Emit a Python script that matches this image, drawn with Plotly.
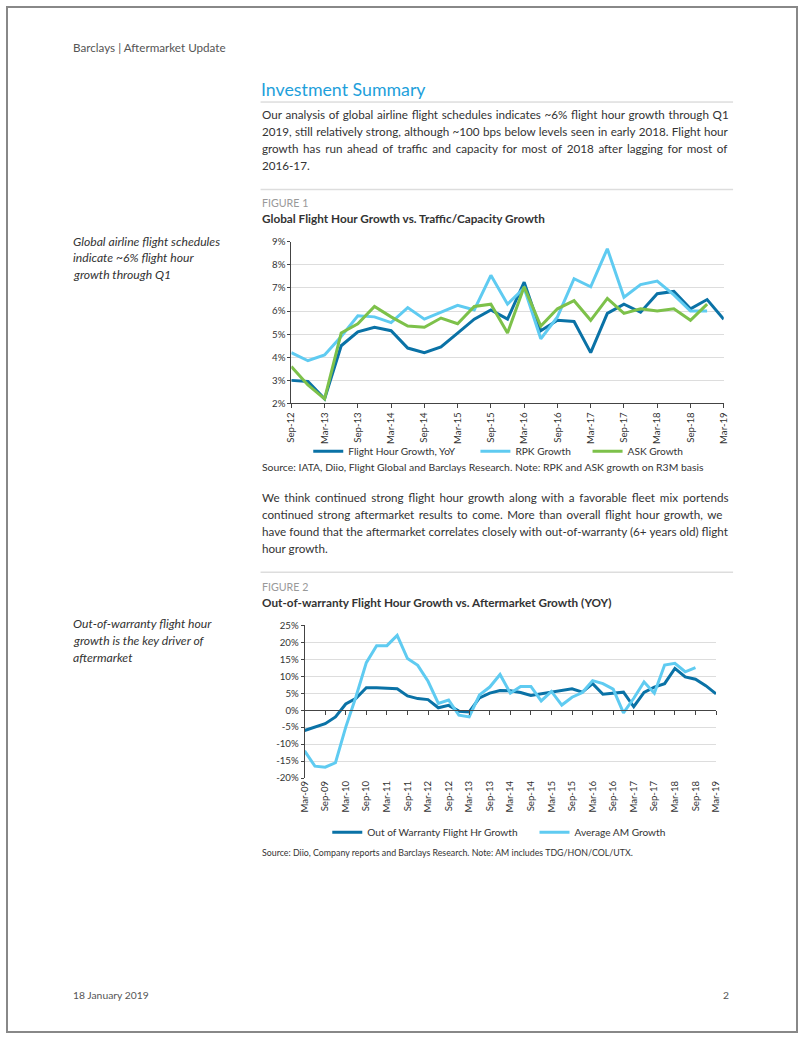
import plotly.graph_objects as go

W, H = 802, 1037
# calibration of the photographed page: screen = A + S * page
AX, SX = 6.7, 0.984
AY, SY = 7.0, 0.988
FS = 1 / 0.986  # font compensation

# ---------------- data: Figure 1 ----------------
q1 = ["Sep-12", "Dec-12", "Mar-13", "Jun-13", "Sep-13", "Dec-13", "Mar-14", "Jun-14", "Sep-14",
      "Dec-14", "Mar-15", "Jun-15", "Sep-15", "Dec-15", "Mar-16", "Jun-16", "Sep-16", "Dec-16",
      "Mar-17", "Jun-17", "Sep-17", "Dec-17", "Mar-18", "Jun-18", "Sep-18", "Dec-18", "Mar-19"]
flight_hour = [3.0, 2.95, 2.2, 4.5, 5.1, 5.3, 5.15, 4.4, 4.2, 4.45, 5.05, 5.65, 6.05, 5.65, 7.25,
               5.15, 5.6, 5.55, 4.2, 5.9, 6.3, 5.95, 6.75, 6.85, 6.1, 6.5, 5.65]
rpk = [4.2, 3.85, 4.1, 4.9, 5.8, 5.75, 5.5, 6.15, 5.65, 5.95, 6.25, 6.05, 7.55, 6.3, 7.0, 4.8,
       5.75, 7.4, 7.05, 8.7, 6.6, 7.15, 7.3, 6.7, 6.0, 6.0]
ask = [3.6, 2.8, 2.2, 5.05, 5.45, 6.2, 5.75, 5.35, 5.3, 5.7, 5.45, 6.2, 6.3, 5.05, 7.05, 5.35,
       6.1, 6.45, 5.6, 6.55, 5.9, 6.1, 6.0, 6.1, 5.6, 6.3]
ticks1 = q1[::2]
yticks1 = [2, 3, 4, 5, 6, 7, 8, 9]
ylabels1 = ["2%", "3%", "4%", "5%", "6%", "7%", "8%", "9%"]

# ---------------- data: Figure 2 ----------------
q2 = [f"{m}-{y:02d}" for y in range(9, 20) for m in ("Mar", "Jun", "Sep", "Dec")][:41]
oow = [-6.0, -5.0, -4.0, -2.0, 1.8, 3.5, 6.6, 6.6, 6.5, 6.3, 4.2, 3.4, 3.1, 0.7, 1.4, -0.3,
       -0.5, 3.6, 5.0, 5.8, 5.7, 5.2, 4.3, 4.8, 5.4, 5.9, 6.3, 5.3, 7.8, 4.7, 4.9, 5.3, 1.0,
       5.2, 6.8, 7.8, 12.3, 9.8, 9.1, 7.2, 4.8]
am = [-12.0, -16.5, -16.8, -15.5, -5.0, 4.0, 14.0, 19.0, 19.0, 22.0, 15.2, 13.2, 8.5, 2.0, 3.0,
      -1.5, -2.0, 4.5, 6.8, 10.5, 5.0, 7.0, 7.0, 2.7, 5.5, 1.5, 3.8, 5.2, 8.7, 7.8, 6.2, -0.8,
      3.5, 8.3, 5.0, 13.3, 13.8, 11.3, 12.5]
ticks2 = q2[::2]
yticks2 = [-20, -15, -10, -5, 0, 5, 10, 15, 20, 25]
ylabels2 = ["-20%", "-15%", "-10%", "-5%", "0%", "5%", "10%", "15%", "20%", "25%"]

DARK = "#0a72a6"
LIGHT = "#5fcbf1"
GREEN = "#7dc14a"
TXT = "#333333"
FONT = "Lato, 'Open Sans', sans-serif"


def px(x):
    """target screen x -> paper fraction"""
    return ((x - AX) / SX) / W


def py(y):
    """target screen y (from top) -> paper fraction"""
    return 1 - ((y - AY) / SY) / H


def fs(v):
    return round(v * FS, 2)


fig = go.Figure()

fig.add_trace(go.Scatter(x=q1, y=flight_hour, name="Flight Hour Growth, YoY", mode="lines",
                         line=dict(color=DARK, width=3), xaxis="x", yaxis="y", legend="legend"))
fig.add_trace(go.Scatter(x=q1[:len(rpk)], y=rpk, name="RPK Growth", mode="lines",
                         line=dict(color=LIGHT, width=3), xaxis="x", yaxis="y", legend="legend2"))
fig.add_trace(go.Scatter(x=q1[:len(ask)], y=ask, name="ASK Growth", mode="lines",
                         line=dict(color=GREEN, width=3), xaxis="x", yaxis="y", legend="legend3"))

fig.add_trace(go.Scatter(x=q2, y=oow, name="Out of Warranty Flight Hr Growth", mode="lines",
                         line=dict(color=DARK, width=3), xaxis="x2", yaxis="y2", legend="legend4"))
fig.add_trace(go.Scatter(x=q2[:len(am)], y=am, name="Average AM Growth", mode="lines",
                         line=dict(color=LIGHT, width=3), xaxis="x2", yaxis="y2", legend="legend5"))
# helper trace for the tick axis drawn along the zero line
fig.add_trace(go.Scatter(x=q2, y=[None] * len(q2), mode="lines", showlegend=False,
                         hoverinfo="skip", xaxis="x3", yaxis="y2"))

# domains (target pixel positions of the plot areas)
x1d = [px(290.7), px(722.7)]
y1d = [py(403.3), py(241.7)]
x2d = [px(304), px(715)]
y2d = [py(777.7), py(625)]
zero_pos = y2d[0] + (20 / 45) * (y2d[1] - y2d[0])

axis_font = dict(family=FONT, size=fs(9.5), color=TXT)

fig.update_layout(
    width=W, height=H, margin=dict(l=0, r=0, t=0, b=0),
    paper_bgcolor="white", plot_bgcolor="white",
    font=dict(family=FONT, color=TXT),
    xaxis=dict(domain=x1d, anchor="y", type="category", categoryorder="array", categoryarray=q1,
               range=[0, len(q1) - 1], tickmode="array", tickvals=ticks1, ticktext=ticks1,
               tickangle=-90, showgrid=False, showline=True, linecolor="#444", linewidth=1,
               ticks="outside", ticklen=4, tickcolor="#444", tickfont=axis_font),
    yaxis=dict(domain=y1d, anchor="x", range=[2, 9], tickmode="array", tickvals=yticks1,
               ticktext=ylabels1, showgrid=True, gridcolor="#dddddd", gridwidth=1,
               showline=True, linecolor="#444", ticks="outside", ticklen=3, tickcolor="#444",
               tickfont=axis_font, zeroline=False),
    xaxis2=dict(domain=x2d, anchor="y2", type="category", categoryorder="array", categoryarray=q2,
                range=[0, len(q2) - 1], tickmode="array", tickvals=ticks2, ticktext=ticks2,
                tickangle=-90, showgrid=False, showline=False, ticks="", tickfont=axis_font),
    xaxis3=dict(overlaying="x2", anchor="free", position=zero_pos, type="category",
                categoryorder="array", categoryarray=q2, range=[0, len(q2) - 1],
                tickmode="array", tickvals=ticks2, showticklabels=False, showgrid=False,
                showline=True, linecolor="#444", linewidth=1, ticks="outside", ticklen=4,
                tickcolor="#444", domain=x2d),
    yaxis2=dict(domain=y2d, anchor="x2", range=[-20, 25], tickmode="array", tickvals=yticks2,
                ticktext=ylabels2, showgrid=True, gridcolor="#dddddd", gridwidth=1,
                showline=True, linecolor="#444", ticks="outside", ticklen=3, tickcolor="#444",
                tickfont=axis_font, zeroline=True, zerolinecolor="#444", zerolinewidth=1),
    showlegend=True,
)

leg_font = dict(family=FONT, size=fs(10), color=TXT)


def leg(text_x, y):
    # legend text sits 40 px to the right of the legend's left edge
    return dict(x=px(text_x) - 40 / W, y=py(y), xanchor="left", yanchor="middle",
                orientation="h", font=leg_font, bgcolor="rgba(0,0,0,0)", borderwidth=0,
                itemwidth=30, tracegroupgap=0)


fig.update_layout(legend=leg(347, 451), legend2=leg(514, 451), legend3=leg(626, 451),
                  legend4=leg(366, 832), legend5=leg(573, 832))

ann = []


def text(x, y, s, size=12, color=TXT, anchor="left", family=FONT):
    ann.append(dict(x=px(x), y=py(y), xref="paper", yref="paper", text=s, showarrow=False,
                    xanchor=anchor, yanchor="middle", align=anchor,
                    font=dict(family=family, size=fs(size), color=color)))


def justified(s, ws):
    if ws == 0:
        return s
    return f"<span style='word-spacing:{ws}px'>{s}</span>"


text(71, 46.5, "Barclays | Aftermarket Update", size=11.5, color="#555555")
text(258, 89, "Investment Summary", size=17.5, color="#1e9fdb")

p1 = ["Our analysis of global airline flight schedules indicates ~6% flight hour growth through Q1",
      "2019, still relatively strong, although ~100 bps below levels seen in early 2018. Flight hour",
      "growth has run ahead of traffic and capacity for most of 2018 after lagging for most of",
      "2016-17."]
p1_ws = [0.7, 0.4, 1.7, 0]
for i, s in enumerate(p1):
    text(259, 114 + i * 17, justified(s, p1_ws[i]), size=11.5)

text(259, 202, "FIGURE 1", size=10.5, color="#999999")
text(259, 218, "<b>Global Flight Hour Growth vs. Traffic/Capacity Growth</b>", size=11.6)

for i, s in enumerate(["Global airline flight schedules", "indicate ~6% flight hour",
                       "growth through Q1"]):
    text(71, 241 + i * 16.6, f"<i>{s}</i>", size=12)

text(259, 467, "Source: IATA, Diio, Flight Global and Barclays Research. Note: RPK and ASK growth on R3M basis",
     size=10.25)

p2 = ["We think continued strong flight hour growth along with a favorable fleet mix portends",
      "continued strong aftermarket results to come. More than overall flight hour growth, we",
      "have found that the aftermarket correlates closely with out-of-warranty (6+ years old) flight",
      "hour growth."]
p2_ws = [1.8, 1.5, 0.1, 0]
for i, s in enumerate(p2):
    text(259, 497 + i * 17, justified(s, p2_ws[i]), size=11.5)

text(259, 586, "FIGURE 2", size=10.5, color="#999999")
text(259, 602, "<b>Out-of-warranty Flight Hour Growth vs. Aftermarket Growth (YOY)</b>", size=11.6)

for i, s in enumerate(["Out-of-warranty flight hour", "growth is the key driver of", "aftermarket"]):
    text(71, 623 + i * 17, f"<i>{s}</i>", size=12)

text(259, 852, "Source: Diio, Company reports and Barclays Research. Note: AM includes TDG/HON/COL/UTX.",
     size=8.7)

text(71, 995, "18 January 2019", size=10.2, color="#555555")
text(730, 995, "2", size=10.2, color="#555555", anchor="right")

shapes = [
    dict(type="rect", xref="paper", yref="paper", x0=0, y0=0, x1=1, y1=1,
         line=dict(color="#888888", width=2)),
    dict(type="line", xref="paper", yref="paper", x0=px(260), x1=px(732), y0=py(102), y1=py(102),
         line=dict(color="#cccccc", width=1)),
    dict(type="line", xref="paper", yref="paper", x0=px(260), x1=px(732), y0=py(189.5), y1=py(189.5),
         line=dict(color="#dddddd", width=1.5)),
    dict(type="line", xref="paper", yref="paper", x0=px(260), x1=px(732), y0=py(572), y1=py(572),
         line=dict(color="#dddddd", width=1.5)),
]

fig.update_layout(annotations=ann, shapes=shapes)

fig.write_html("out.html", config={"displayModeBar": False},
               post_script="document.body.style.margin='0px';document.body.style.overflow='hidden';")
